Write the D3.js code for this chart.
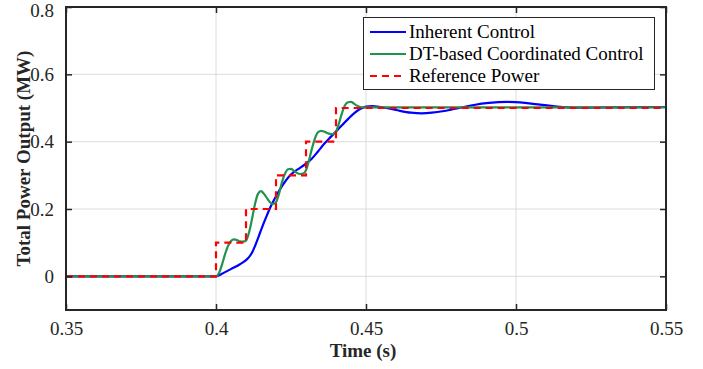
<!DOCTYPE html>
<html><head><meta charset="utf-8">
<script src="https://cdn.jsdelivr.net/npm/d3@7"></script>
<style>body{margin:0;background:#fff}svg{display:block}text{font-family:'Liberation Serif','Times New Roman',serif}</style>
</head><body>
<svg id="c" width="703" height="369"></svg>
<script>
const xTicks = [0.35, 0.4, 0.45, 0.5, 0.55];
const yTicks = [0, 0.2, 0.4, 0.6, 0.8];
const seriesNames = ["Inherent Control", "DT-based Coordinated Control", "Reference Power"];

const inherentT = [0.35,0.4,0.402,0.404,0.406,0.408,0.41,0.411,0.412,0.413,0.414,0.415,0.416,0.417,0.418,0.42,0.422,0.424,0.426,0.428,0.43,0.432,0.434,0.436,0.438,0.44,0.442,0.444,0.446,0.448,0.45,0.452,0.455,0.46,0.465,0.4686,0.472,0.476,0.481,0.486,0.491,0.497,0.503,0.508,0.513,0.517,0.522,0.53,0.55];
const inherentP = [0,0,0.008,0.017,0.026,0.036,0.048,0.057,0.07,0.09,0.113,0.137,0.16,0.182,0.203,0.238,0.268,0.293,0.31,0.322,0.335,0.35,0.371,0.393,0.412,0.43,0.449,0.467,0.484,0.497,0.504,0.506,0.503,0.494,0.486,0.484,0.486,0.491,0.5,0.509,0.515,0.518,0.515,0.51,0.505,0.502,0.501,0.502,0.503];

const dtT = [0.35,0.4,0.401,0.402,0.403,0.404,0.405,0.406,0.407,0.408,0.409,0.41,0.411,0.412,0.413,0.414,0.415,0.416,0.417,0.418,0.419,0.42,0.421,0.422,0.423,0.424,0.425,0.426,0.427,0.428,0.429,0.43,0.431,0.432,0.433,0.434,0.435,0.436,0.437,0.438,0.439,0.44,0.441,0.442,0.443,0.444,0.445,0.446,0.447,0.448,0.449,0.45,0.46,0.55];
const dtP = [0,0,0.01,0.035,0.065,0.09,0.105,0.11,0.108,0.104,0.103,0.106,0.13,0.17,0.215,0.245,0.253,0.245,0.232,0.22,0.215,0.22,0.245,0.28,0.305,0.318,0.319,0.313,0.307,0.304,0.305,0.315,0.345,0.38,0.41,0.428,0.432,0.43,0.426,0.423,0.422,0.43,0.455,0.485,0.508,0.517,0.518,0.513,0.507,0.503,0.502,0.502,0.502,0.502];

const refT = [0.35,0.4,0.41,0.42,0.43,0.44,0.55];
const refP = [0,0.1,0.2,0.3,0.4,0.5,0.5];

const x = d3.scaleLinear().domain([0.35, 0.55]).range([66, 666]);
const y = d3.scaleLinear().domain([-0.1, 0.8]).range([310, 7]);
const svg = d3.select("#c");
const axisColor = "#262626";
const font = "'Liberation Serif','Times New Roman',serif";
const fs = "19px";

// grid
const g = svg.append("g");
g.selectAll(".gx").data(xTicks).join("line")
  .attr("x1", d => x(d)).attr("x2", d => x(d)).attr("y1", y(-0.1)).attr("y2", y(0.8))
  .attr("stroke", "#dcdcdc").attr("stroke-width", 1);
g.selectAll(".gy").data(yTicks).join("line")
  .attr("x1", x(0.35)).attr("x2", x(0.55)).attr("y1", d => y(d)).attr("y2", d => y(d))
  .attr("stroke", "#dcdcdc").attr("stroke-width", 1);

// data lines
const pts = (T, P) => T.map((t, i) => [t, P[i]]);
const line = d3.line().x(d => x(d[0])).y(d => y(d[1])).curve(d3.curveMonotoneX);
svg.append("clipPath").attr("id", "cl").append("rect")
  .attr("x", 66).attr("y", 7).attr("width", 600).attr("height", 303);
const lg = svg.append("g").attr("clip-path", "url(#cl)");
lg.append("path").attr("d", line(pts(inherentT, inherentP)))
  .attr("fill", "none").attr("stroke", "#0000ff").attr("stroke-width", 2.2);
lg.append("path").attr("d", line(pts(dtT, dtP)))
  .attr("fill", "none").attr("stroke", "#20934f").attr("stroke-width", 2.2);
const refPts = [[refT[0], refP[0]]];
for (let i = 1; i < refT.length; i++) { refPts.push([refT[i], refP[i - 1]]); refPts.push([refT[i], refP[i]]); }
lg.append("path").attr("d", d3.line().x(d => x(d[0])).y(d => y(d[1]))(refPts))
  .attr("fill", "none").attr("stroke", "#ff0000").attr("stroke-width", 2.2)
  .attr("stroke-dasharray", "7,5");

// axes
const fmt = d => String(d);
const ax = svg.append("g").attr("transform", `translate(0,${y(-0.1)})`)
  .call(d3.axisBottom(x).tickValues(xTicks).tickSizeInner(-6).tickSizeOuter(0).tickPadding(12).tickFormat(fmt));
const axT = svg.append("g").attr("transform", `translate(0,${y(0.8)})`)
  .call(d3.axisTop(x).tickValues(xTicks).tickSizeInner(-6).tickSizeOuter(0).tickFormat(""));
const ay = svg.append("g").attr("transform", `translate(${x(0.35)},0)`)
  .call(d3.axisLeft(y).tickValues(yTicks).tickSizeInner(-6).tickSizeOuter(0).tickPadding(12).tickFormat(fmt));
const ayR = svg.append("g").attr("transform", `translate(${x(0.55)},0)`)
  .call(d3.axisRight(y).tickValues(yTicks).tickSizeInner(-6).tickSizeOuter(0).tickFormat(""));
[ax, axT, ay, ayR].forEach(a => {
  a.attr("font-family", font).attr("font-size", fs);
  a.select(".domain").remove();
  a.selectAll("line").attr("stroke", axisColor).attr("stroke-width", 1.5);
  a.selectAll("text").attr("fill", axisColor).style("font-family", font).style("font-size", fs);
});
ay.selectAll("text").filter(d => d === 0.8).attr("dy", "0.52em");
svg.append("rect").attr("x", x(0.35)).attr("y", y(0.8)).attr("width", x(0.55) - x(0.35)).attr("height", y(-0.1) - y(0.8))
  .attr("fill", "none").attr("stroke", axisColor).attr("stroke-width", 2);

// axis labels
svg.append("text").attr("x", x(0.45) - 3).attr("y", 357).attr("text-anchor", "middle")
  .attr("fill", axisColor).style("font-family", font).style("font-size", fs).style("font-weight", "bold")
  .text("Time (s)");
svg.append("text").attr("transform", `translate(30,${(y(-0.1) + y(0.8)) / 2}) rotate(-90)`).attr("text-anchor", "middle")
  .attr("fill", axisColor).style("font-family", font).style("font-size", fs).style("font-weight", "bold")
  .text("Total Power Output (MW)");

// legend
const leg = svg.append("g");
leg.append("rect").attr("x", 363.5).attr("y", 17.5).attr("width", 291).attr("height", 72)
  .attr("fill", "#fff").attr("stroke", "#262626").attr("stroke-width", 1);
const legColors = ["#0000ff", "#20934f", "#ff0000"];
const legY = [32, 54, 76];
seriesNames.forEach((n, i) => {
  const l = leg.append("line").attr("x1", 370).attr("x2", 406).attr("y1", legY[i]).attr("y2", legY[i])
    .attr("stroke", legColors[i]).attr("stroke-width", 2.2);
  if (i === 2) l.attr("stroke-dasharray", "7,5");
  leg.append("text").attr("x", 409).attr("y", legY[i] + 6).attr("fill", "#000")
    .style("font-family", font).style("font-size", fs).text(n);
});
</script>
</body></html>
